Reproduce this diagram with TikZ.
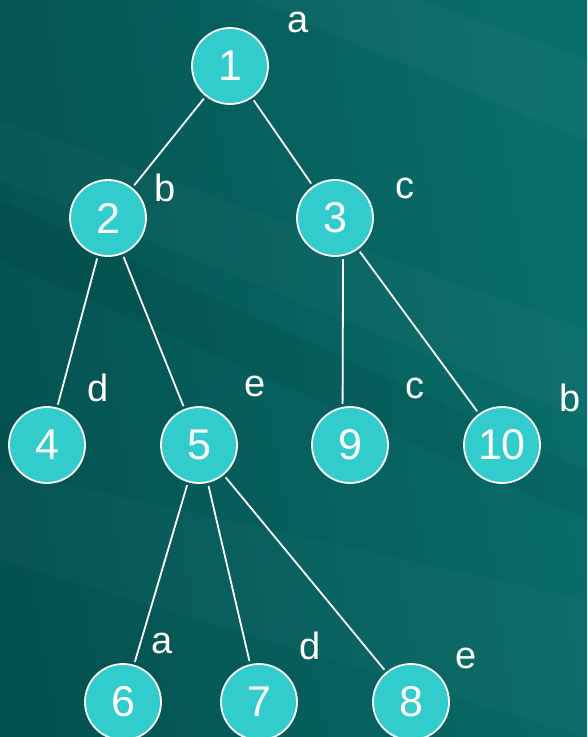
\documentclass[tikz,border=0pt]{standalone}
\usepackage{fontspec}
\setmainfont{Liberation Sans}
\usepackage{xcolor}
\usetikzlibrary{arrows}
\definecolor{bgdark}{HTML}{045250}
\definecolor{bglight}{HTML}{096E6B}
\definecolor{nodefill}{HTML}{33CCCC}

\begin{document}
\begin{tikzpicture}[x=1pt,y=-1pt,line width=1.8pt,
    vert/.style={circle,draw=white,fill=nodefill,minimum size=76pt,inner sep=0pt,
      text=white,font=\fontsize{43}{43}\selectfont},
    lbl/.style={text=white,font=\fontsize{38}{38}\selectfont}]
  % background
  \shade[left color=bgdark,right color=bglight,shading angle=100] (0,0) rectangle (587,737);
  \fill[white,opacity=0.025] (0,120) -- (587,330) -- (587,420) -- (0,180) -- cycle;
  \fill[white,opacity=0.03] (250,0) -- (587,140) -- (587,60) -- (420,0) -- cycle;
  \fill[black,opacity=0.05] (0,200) -- (587,470) -- (587,520) -- (0,260) -- cycle;
  \fill[white,opacity=0.02] (0,470) -- (587,600) -- (587,737) -- (0,560) -- cycle;
  \useasboundingbox (0,0) rectangle (587,737);

  \node[vert] (n1)  at (230,66)  {1};
  \node[vert] (n2)  at (108,218) {2};
  \node[vert] (n3)  at (335,218) {3};
  \node[vert] (n4)  at (47,445)  {4};
  \node[vert] (n5)  at (199,445) {5};
  \node[vert] (n9)  at (350,445) {9};
  \node[vert] (n10) at (502,445) {10};
  \node[vert] (n6)  at (123,702) {6};
  \node[vert] (n7)  at (259,702) {7};
  \node[vert] (n8)  at (411,702) {8};

  \node[lbl] (la1)  at (298,22)  {a};
  \node[lbl] (lb2)  at (165,188) {b};
  \node[lbl] (lc3)  at (405,188) {c};
  \node[lbl] (ld4)  at (98,388)  {d};
  \node[lbl] (le5)  at (255,386) {e};
  \node[lbl] (lc9)  at (415,388) {c};
  \node[lbl] (lb10) at (570,398) {b};
  \node[lbl] (la6)  at (162,643) {a};
  \node[lbl] (ld7)  at (310,646) {d};
  \node[lbl] (le8)  at (466,658) {e};

  \path[draw=white,shorten >=3pt,shorten <=3pt]
    (n1) edge (n2)
    (n1) edge (n3)
    (n2) edge (n4)
    (n2) edge (n5)
    (n3.282) edge (n9.101)
    (n3) edge (n10)
    (n5) edge (n6)
    (n5) edge (n7)
    (n5) edge (n8);
\end{tikzpicture}
\end{document}
